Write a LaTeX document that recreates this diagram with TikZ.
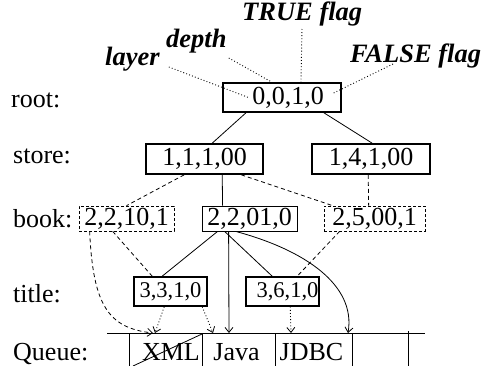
\documentclass[tikz,border=0pt]{standalone}
\usepackage{fontspec}
\setmainfont{Liberation Serif}
\usetikzlibrary{arrows.meta,calc}
\begin{document}
\begin{tikzpicture}[x=1pt,y=-1pt,
  every node/.style={font=\fontsize{26}{30}\selectfont, inner sep=0pt},
  rowlabel/.style={anchor=base west},
  flaglabel/.style={anchor=base west, font=\fontsize{26.5}{30}\selectfont\bfseries\itshape},
  thickbox/.style={draw, line width=1.6pt, minimum height=29pt},
  thinbox/.style={draw, line width=0.8pt, minimum height=25pt},
  dashbox/.style={draw, line width=0.7pt, dash pattern=on 3pt off 2pt, minimum height=25pt},
  titlebox/.style={thickbox, font=\fontsize{22.5}{26}\selectfont, minimum width=73pt},
  link/.style={line width=0.8pt},
  dashlink/.style={line width=0.8pt, dash pattern=on 4pt off 3pt},
  dotlink/.style={line width=0.9pt, dash pattern=on 0.9pt off 2.2pt},
  arr/.style={-{Straight Barb[length=5pt,width=8pt,line width=0.8pt]}},
]
\useasboundingbox (0,0) rectangle (485,365);

% flag labels
\node[flaglabel] (layer) at (105,65) {layer};
\node[flaglabel] (depth) at (166,47) {depth};
\node[flaglabel] (trueflag) at (242,20) {TRUE flag};
\node[flaglabel] (falseflag) at (350,62) {FALSE flag};

% row labels
\node[rowlabel] (lroot) at (11,107) {root:};
\node[rowlabel] (lstore) at (13,163) {store:};
\node[rowlabel] (lbook) at (13,227) {book:};
\node[rowlabel] (ltitle) at (13,302) {title:};
\node[rowlabel] (lqueue) at (13,360) {Queue:};

% boxes
\node[thickbox, minimum width=117.5pt] (root) at (282,97.5) {\hspace*{12pt}0,0,1,0};
\node[thickbox, minimum width=117pt, minimum height=30pt] (store1) at (204.5,159) {1,1,1,00};
\node[thickbox, minimum width=118pt, minimum height=30pt] (store2) at (371,159) {1,4,1,00};
\node[dashbox, minimum width=95pt] (book1) at (126.5,218.5) {2,2,10,1};
\node[thinbox, minimum width=95pt] (book2) at (249.5,218.5) {2,2,01,0};
\node[dashbox, minimum width=101pt] (book3) at (374.5,218.5) {2,5,00,1};
\node[titlebox] (title1) at (170.5,291.5) {3,3,1,0};
\node[titlebox] (title2) at (282.5,291.5) {\hspace*{10pt}3,6,1,0};

% queue
\coordinate (qstart) at (107,333);
\coordinate (qend) at (425,333);
\draw[link] (qstart) -- (qend);
\foreach \qx/\qy in {129/333,202/333,275/333,352/333,408/331}
  \draw[link] (\qx,\qy) -- (\qx,366);
\node[anchor=base] (xml) at (171,360) {XML};
\node[anchor=base] (java) at (236.5,360) {Java};
\node[anchor=base] (jdbc) at (311.5,360) {JDBC};
\draw[link] (133,366) -- (202,334);

\coordinate (tXa) at (153,333);
\coordinate (tXb) at (155,333);
\coordinate (tJa) at (213,333);
\coordinate (tJb) at (229,333);
\coordinate (tDa) at (291,333);
\coordinate (tDb) at (348,333);

% dotted flag pointers
\draw[dotlink] ($(layer.base east)+(9,2)$) -- ($(root.west)+(26,0)$);
\draw[dotlink] ($(depth.base east)+(2,11)$) -- ($(root.north west)+(49.5,0)$);
\draw[dotlink] ($(trueflag.base west)+(60,9)$) -- ($(root.north west)+(78.5,0)$);
\draw[dotlink] ($(falseflag.base west)+(43,2)$) -- ($(root.east)+(-8,-4.5)$);

% tree edges
\draw[link] ($(root.south west)+(23.5,0)$) -- ($(store1.north west)+(67,0)$);
\draw[link] ($(root.south west)+(101.5,0)$) -- ($(store2.north west)+(61,0)$);
\draw[dashlink] ($(store1.south west)+(39,0)$) -- (book1.north);
\draw[link] ($(store1.south west)+(77,0)$) -- ($(book2.north west)+(21,0)$);
\draw[dashlink] ($(store1.south west)+(96,0)$) -- ($(book3.north west)+(9,0)$);
\draw[dashlink] ($(store2.south west)+(57,0)$) -- ($(book3.north west)+(45,0)$);

\draw[dashlink,arr] ($(book1.south west)+(11,0)$) .. controls (93,305) and (108,328) .. (tXa);
\draw[dashlink] ($(book1.south west)+(34,0)$) -- ($(title1.north west)+(19,0)$);
\draw[link] ($(book2.south west)+(16,0)$) -- ($(title1.north west)+(29,0)$);
\draw[link,arr] ($(book2.south west)+(27,0)$) -- (tJb);
\draw[link] ($(book2.south west)+(23,0)$) -- ($(title2.north west)+(27,0)$);
\draw[link,arr] ($(book2.south west)+(34,0)$) .. controls (305,250) and (356,285) .. (tDb);
\draw[dashlink] ($(book3.south west)+(16,0)$) -- ($(title2.north west)+(52,0)$);

\draw[dotlink,arr] ($(title1.south west)+(31,0)$) -- (tXb);
\draw[dotlink,arr] ($(title1.south west)+(69,0)$) -- (tJa);
\draw[dotlink,arr] ($(title2.south west)+(45,0)$) -- (tDa);
\end{tikzpicture}
\end{document}
